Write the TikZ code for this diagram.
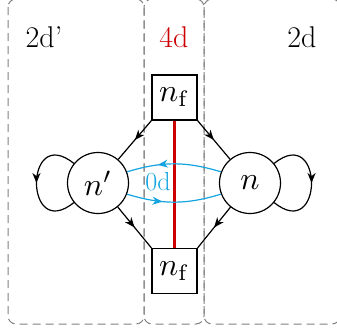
\documentclass[tikz,border=0pt]{standalone}
\usepackage{graphicx}
\usetikzlibrary{arrows.meta,decorations.markings}
\definecolor{myblue}{RGB}{20,165,225}
\definecolor{myred}{RGB}{204,0,0}
\newcommand{\bigmath}[1]{\scalebox{3.2}{$#1$}}
\tikzset{
  regionbox/.style={draw=gray, line width=1pt, dash pattern=on 8pt off 5pt, rounded corners=8pt},
  fbox/.style={draw, line width=1.2pt, minimum size=45pt, inner sep=0pt, font=\fontsize{10}{12}\selectfont},
  statenode/.style={draw, circle, line width=1.2pt, minimum size=61pt, inner sep=0pt, font=\fontsize{10}{12}\selectfont},
  edge/.style={line width=1.2pt},
  midarrow/.style={postaction={decorate}, decoration={markings, mark=at position #1 with {\arrow{Stealth[length=10pt,width=8pt,inset=3pt]}}}},
  lab/.style={anchor=base, inner sep=0pt},
}
\begin{document}
\begin{tikzpicture}[x=1pt,y=1pt,font=\fontsize{30}{36}\selectfont]
\useasboundingbox (0,0) rectangle (337,-333);
% regions
\draw[regionbox] (8,1) rectangle (144,-324);
\draw[regionbox] (144,1) rectangle (204,-324);
\draw[regionbox] (204,1) rectangle (340,-324);
% labels
\node[lab] (l1) at (44,-47) {2d'};
\node[lab, text=myred] (l2) at (174,-47) {4d};
\node[lab] (l3) at (302,-47) {2d};
% nodes
\node[fbox] (ft) at (174.5,-97.5) {\bigmath{n_{\mathrm{f}}}};
\node[fbox] (fb) at (174.5,-271) {\bigmath{n_{\mathrm{f}}}};
\node[statenode] (np) at (98,-183) {\bigmath{n'}};
\node[statenode] (nn) at (250,-183) {\bigmath{n}};
% red line
\draw[myred, line width=2.4pt] (ft.south) -- (fb.north);
% black arrows
\draw[edge, midarrow=0.5] (ft.south west) -- (np);
\draw[edge, midarrow=0.5] (ft.south east) -- (nn);
\draw[edge, midarrow=0.5] (np) -- (fb.north west);
\draw[edge, midarrow=0.5] (nn) -- (fb.north east);
% loops
\draw[edge, midarrow=0.5] (np.141) to[out=141, in=219, looseness=4.2] (np.219);
\draw[edge, midarrow=0.5] (nn.39) to[out=39, in=-39, looseness=4.2] (nn.-39);
% blue arrows
\draw[edge, myblue, midarrow=0.67] (nn.159) to[bend right=17] (np.21);
\draw[edge, myblue, midarrow=0.38] (np.-21) to[bend right=17] (nn.-159);
\node[text=myblue, font=\fontsize{26}{31}\selectfont, inner sep=0pt] (zd) at (158,-182) {0d};
\end{tikzpicture}
\end{document}
